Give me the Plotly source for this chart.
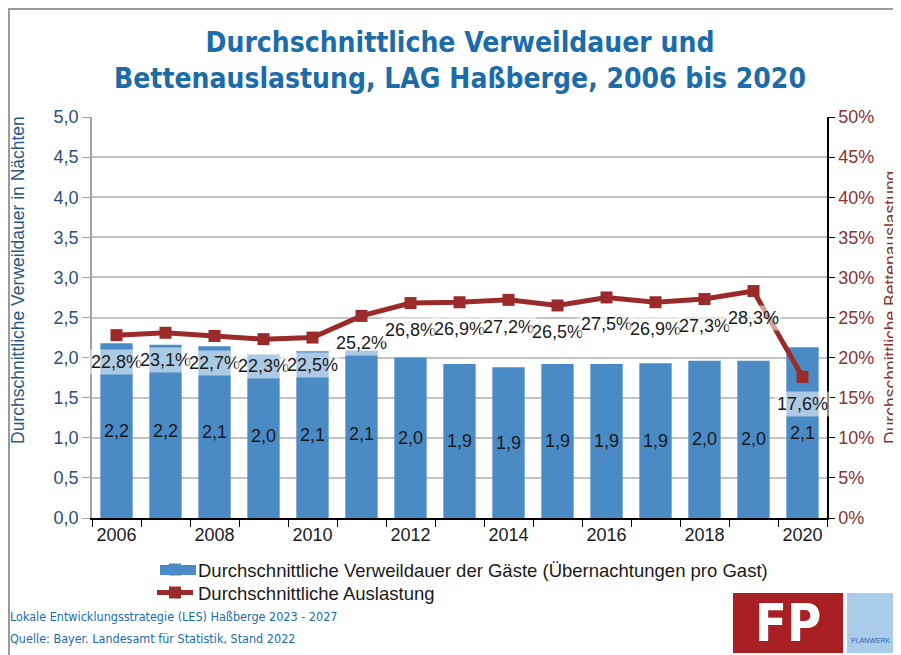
import plotly.graph_objects as go

years = [str(y) for y in range(2006, 2021)]
tick_labels = [y if int(y) % 2 == 0 else "" for y in years]
verweildauer = [2.18, 2.16, 2.14, 2.04, 2.08, 2.09, 2.0, 1.92, 1.88, 1.92, 1.92, 1.93, 1.96, 1.96, 2.13]
auslastung = [22.8, 23.1, 22.7, 22.3, 22.5, 25.2, 26.8, 26.9, 27.2, 26.5, 27.5, 26.9, 27.3, 28.3, 17.6]

OFF = 8  # page body margin
W, H = 901 - OFF, 655 - OFF
# plot area in reference pixels: x 92..827, y 117..518
L, R, T, B = 92 - OFF, 901 - 827, 117 - OFF, 655 - 518
PW, PH = W - L - R, H - T - B


def px(x):
    return (x - OFF - L) / PW


def py(y):
    return (H - B - (y - OFF)) / PH


BAR_C = "#4a8ac5"
LINE_C = "#9b2b2b"
TITLE_C = "#1b6ca8"
COND = "DejaVu Sans Condensed, DejaVu Sans"

fig = go.Figure()
fig.add_trace(go.Bar(
    x=years, y=verweildauer,
    name="Durchschnittliche Verweildauer der Gäste (Übernachtungen pro Gast)",
    marker=dict(color=BAR_C, line=dict(width=0)),
    texttemplate="%{y:.1f}", textposition="inside", insidetextanchor="middle",
    textangle=0, textfont=dict(size=18, color="#1a1a1a", family="Liberation Sans"),
    constraintext="none", legend="legend",
))
fig.add_trace(go.Scatter(
    x=years, y=auslastung, yaxis="y2", mode="lines+markers",
    name="Durchschnittliche Auslastung",
    line=dict(color=LINE_C, width=5),
    marker=dict(symbol="square", size=12, color=LINE_C),
    legend="legend2",
))

annotations = []
for i, v in enumerate(auslastung):
    annotations.append(dict(
        x=i, y=v, xref="x", yref="y2", yshift=-27, showarrow=False,
        text=f"{v:.1f}".replace(".", ",") + "%",
        font=dict(size=18, color="#1a1a1a", family="Liberation Sans"),
        bgcolor="rgba(255,255,255,0.55)", borderpad=2,
    ))

annotations += [
    dict(x=px(18), y=py(280), xref="paper", yref="paper", showarrow=False,
         xanchor="center", yanchor="middle",
         text="Durchschnittliche Verweildauer in Nächten", textangle=-90,
         font=dict(size=17.5, color="#2a5587", family="Liberation Sans")),
    dict(x=px(891), y=py(308), xref="paper", yref="paper", showarrow=False,
         xanchor="center", yanchor="middle",
         text="Durchschnittliche Bettenauslastung", textangle=-90,
         font=dict(size=17.5, color="#8b3333", family="Liberation Sans")),
    dict(x=px(8), y=py(616), xref="paper", yref="paper", showarrow=False,
         xanchor="left", yanchor="middle",
         text="Lokale Entwicklungsstrategie (LES) Haßberge 2023 - 2027",
         font=dict(size=12.5, color=TITLE_C, family=COND)),
    dict(x=px(8), y=py(638), xref="paper", yref="paper", showarrow=False,
         xanchor="left", yanchor="middle",
         text="Quelle: Bayer. Landesamt für Statistik, Stand 2022",
         font=dict(size=12.5, color=TITLE_C, family=COND)),
    dict(x=px(788), y=py(623), xref="paper", yref="paper", showarrow=False,
         xanchor="center", yanchor="middle",
         text="<b>FP</b>", font=dict(size=52, color="white", family=COND)),
    dict(x=px(849), y=py(640), xref="paper", yref="paper", showarrow=False,
         xanchor="left", yanchor="middle", text="PLANWERK",
         font=dict(size=7, color="#2a6aa8", family="Liberation Sans")),
]

shapes = [
    dict(type="rect", xref="paper", yref="paper",
         x0=px(9), x1=px(960), y0=py(700), y1=py(9),
         line=dict(color="#9a9a9a", width=2), fillcolor="rgba(0,0,0,0)", layer="below"),
    dict(type="rect", xref="paper", yref="paper",
         x0=px(733), x1=px(843), y0=py(653), y1=py(593),
         line=dict(width=0), fillcolor="#a81f24", layer="below"),
    dict(type="rect", xref="paper", yref="paper",
         x0=px(847), x1=px(930), y0=py(653), y1=py(593),
         line=dict(width=0), fillcolor="#a9cceb", layer="below"),
    # wide legend swatch for the bar series (as in the reference)
    dict(type="rect", xref="paper", yref="paper",
         x0=px(160), x1=px(196), y0=py(575), y1=py(565),
         line=dict(width=0), fillcolor=BAR_C, layer="above"),
]

legend_font = dict(size=18.5, color="#1a1a1a", family="Liberation Sans")

fig.update_layout(
    width=W, height=H,
    margin=dict(l=L, r=R, t=T, b=B, autoexpand=False),
    paper_bgcolor="white", plot_bgcolor="white",
    separators=",.",
    bargap=0.34,
    showlegend=True,
    legend=dict(x=px(152), y=py(570), xanchor="left", yanchor="middle",
                font=legend_font, bgcolor="rgba(0,0,0,0)", itemwidth=36),
    legend2=dict(x=px(152), y=py(593), xanchor="left", yanchor="middle",
                 font=legend_font, bgcolor="rgba(0,0,0,0)", itemwidth=36),
    title=dict(text="Durchschnittliche Verweildauer und<br>Bettenauslastung, LAG Haßberge, 2006 bis 2020",
               x=px(460), xref="paper", xanchor="center",
               y=1 - (52 - OFF) / H, yanchor="middle",
               font=dict(size=28, color=TITLE_C, family=COND, weight="bold")),
    xaxis=dict(type="category", categoryorder="array", categoryarray=years,
               range=[-0.5, len(years) - 0.5], autorange=False,
               tickvals=years, ticktext=tick_labels, tickangle=0,
               tickson="boundaries", ticks="outside", ticklen=7, tickcolor="black",
               showline=True, linecolor="black", linewidth=1.5, showgrid=False,
               tickfont=dict(size=18, color="#1a1a1a", family="Liberation Sans")),
    yaxis=dict(range=[0, 5], dtick=0.5, tickformat=".1f",
               showgrid=True, gridcolor="#c4c4c4", gridwidth=1.5,
               showline=True, linecolor="#a0a0a0", linewidth=1.5,
               ticks="outside", ticklen=8, tickcolor="#a0a0a0",
               tickfont=dict(size=18, color="#2a4f7d", family="Liberation Sans"),
               zeroline=False),
    yaxis2=dict(range=[0, 50], dtick=5, ticksuffix="%", overlaying="y", side="right",
                showgrid=False, showline=True, linecolor="black", linewidth=1.5,
                ticks="outside", ticklen=6, tickcolor="black",
                tickfont=dict(size=18, color="#8b3333", family="Liberation Sans"),
                zeroline=False),
    annotations=annotations,
    shapes=shapes,
)

fig.write_html("out.html")
